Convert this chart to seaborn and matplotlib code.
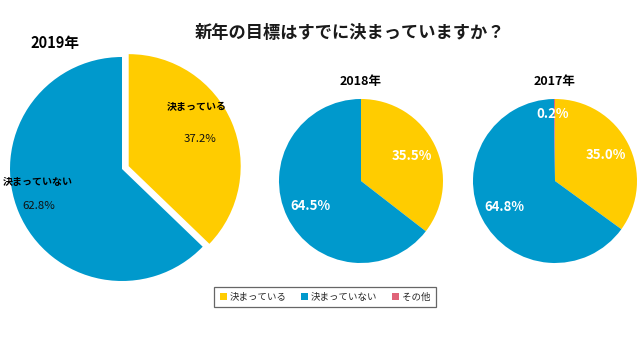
import matplotlib
matplotlib.use("Agg")
import matplotlib.pyplot as plt
import seaborn as sns
from matplotlib.patches import Patch

# Survey answers (percent) per year
categories = ["決まっている", "決まっていない", "その他"]
years = ["2019年", "2018年", "2017年"]
share_2019 = [37.2, 62.8, 0.0]
share_2018 = [35.5, 64.5, 0.0]
share_2017 = [35.0, 64.8, 0.2]
chart_title = "新年の目標はすでに決まっていますか？"

sns.set_theme(style="white")
plt.rcParams["font.family"] = ["Noto Sans CJK JP", "DejaVu Sans"]
palette = sns.color_palette(["#FFCC00", "#0099CC", "#E06378"])

W, H = 640, 344
fig = plt.figure(figsize=(W / 100, H / 100), dpi=100)
ax = fig.add_axes([0, 0, 1, 1])


def py(y):
    """Convert a top-down pixel row into the axes' bottom-up coordinate."""
    return H - y


def pct_label(p):
    return f"{p:.1f}%" if p > 0.05 else ""


# 2019: large pie with the "決まっている" slice pulled out
r19 = 112
wedges19, _ = ax.pie(share_2019, colors=palette, startangle=90, counterclock=False,
                     center=(122, py(169)), radius=r19,
                     explode=[0.065 * r19, 0, 0], wedgeprops=dict(linewidth=0))
ax.text(197, py(107), categories[0], ha="center", va="center",
        fontsize=7.2, fontweight="bold", color="black")
ax.text(200, py(139), pct_label(share_2019[0]), ha="center", va="center",
        fontsize=8.2, color="#111111")
ax.text(38, py(182), categories[1], ha="center", va="center",
        fontsize=7.2, fontweight="bold", color="black")
ax.text(39, py(206), pct_label(share_2019[1]), ha="center", va="center",
        fontsize=8.2, color="#111111")
ax.text(55, py(43), years[0], ha="center", va="center",
        fontsize=10.5, fontweight="bold", color="black")

# 2018 and 2017: smaller pies with white percentage labels
for vals, cx, yr in [(share_2018, 361, years[1]), (share_2017, 555, years[2])]:
    wedges, _, autotexts = ax.pie(vals, colors=palette, startangle=90, counterclock=False,
                                  center=(cx, py(181)), radius=82,
                                  autopct=pct_label, pctdistance=0.69,
                                  wedgeprops=dict(linewidth=0))
    for t, v in zip(autotexts, vals):
        t.set_color("white")
        t.set_fontsize(9.5)
        t.set_fontweight("bold")
        if 0 < v < 1:
            t.set_position((cx - 2, py(114)))
    ax.text(cx, py(81), yr, ha="center", va="center",
            fontsize=9, fontweight="bold", color="black")

ax.text(350, py(33), chart_title, ha="center", va="center",
        fontsize=12.4, fontweight="bold", color="#1a1a1a")

ax.set_xlim(0, W)
ax.set_ylim(0, H)
ax.set_aspect("equal")
ax.axis("off")

handles = [Patch(facecolor=c, edgecolor="none", label=l) for c, l in zip(palette, categories)]
leg = fig.legend(handles=handles, loc="center", bbox_to_anchor=(325 / W, 1 - 297 / H),
                 ncol=3, fontsize=6.8, frameon=True, fancybox=False,
                 handlelength=0.75, handleheight=0.75, handletextpad=0.3,
                 columnspacing=1.5, borderpad=0.6, borderaxespad=0)
leg.get_frame().set_edgecolor("#404040")
leg.get_frame().set_linewidth(0.9)

fig.savefig("out.png", dpi=100, facecolor="white")
